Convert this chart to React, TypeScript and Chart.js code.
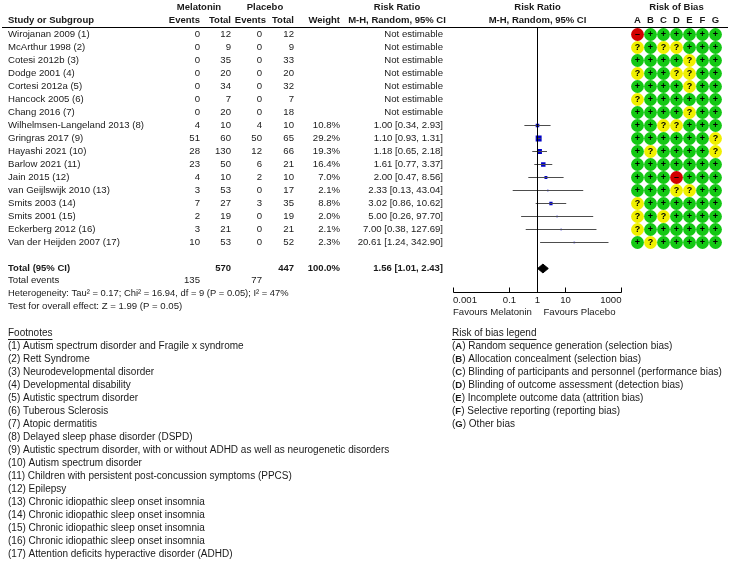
import React, { useEffect, useRef } from "react";
import { Chart, registerables } from "chart.js";

Chart.register(...registerables);

// ---------- data ----------
const studies = [
  "Wirojanan 2009 (1)",
  "McArthur 1998 (2)",
  "Cotesi 2012b (3)",
  "Dodge 2001 (4)",
  "Cortesi 2012a (5)",
  "Hancock 2005 (6)",
  "Chang 2016 (7)",
  "Wilhelmsen-Langeland 2013 (8)",
  "Gringras 2017 (9)",
  "Hayashi 2021 (10)",
  "Barlow 2021 (11)",
  "Jain 2015 (12)",
  "van Geijlswijk 2010 (13)",
  "Smits 2003 (14)",
  "Smits 2001 (15)",
  "Eckerberg 2012 (16)",
  "Van der Heijden 2007 (17)",
];
const melEvents = [0, 0, 0, 0, 0, 0, 0, 4, 51, 28, 23, 4, 3, 7, 2, 3, 10];
const melTotal = [12, 9, 35, 20, 34, 7, 20, 10, 60, 130, 50, 10, 53, 27, 19, 21, 53];
const plaEvents = [0, 0, 0, 0, 0, 0, 0, 4, 50, 12, 6, 2, 0, 3, 0, 0, 0];
const plaTotal = [12, 9, 33, 20, 32, 7, 18, 10, 65, 66, 21, 10, 17, 35, 19, 21, 52];
const weights: (number | null)[] = [null, null, null, null, null, null, null, 10.8, 29.2, 19.3, 16.4, 7.0, 2.1, 8.8, 2.0, 2.1, 2.3];
const riskRatio: (number | null)[] = [null, null, null, null, null, null, null, 1.0, 1.1, 1.18, 1.61, 2.0, 2.33, 3.02, 5.0, 7.0, 20.61];
const ciLow: (number | null)[] = [null, null, null, null, null, null, null, 0.34, 0.93, 0.65, 0.77, 0.47, 0.13, 0.86, 0.26, 0.38, 1.24];
const ciHigh: (number | null)[] = [null, null, null, null, null, null, null, 2.93, 1.31, 2.18, 3.37, 8.56, 43.04, 10.62, 97.7, 127.69, 342.9];

const totalMel = 570;
const totalPla = 447;
const totalWeight = "100.0%";
const totalRR = 1.56;
const totalLow = 1.01;
const totalHigh = 2.43;
const totalEventsMel = 135;
const totalEventsPla = 77;
const heterogeneityText = "Heterogeneity: Tau\u00b2 = 0.17; Chi\u00b2 = 16.94, df = 9 (P = 0.05); I\u00b2 = 47%";
const overallText = "Test for overall effect: Z = 1.99 (P = 0.05)";

const axisTicks = [0.001, 0.1, 1, 10, 1000];
const axisTickLabels = ["0.001", "0.1", "1", "10", "1000"];
const favoursLeft = "Favours Melatonin";
const favoursRight = "Favours Placebo";

const biasLetters = ["A", "B", "C", "D", "E", "F", "G"];
const biasRows = [
  "-++++++",
  "?+??+++",
  "++++?++",
  "?++??++",
  "++++?++",
  "?++++++",
  "++++?++",
  "++??+++",
  "++++++?",
  "+?++++?",
  "+++++++",
  "+++-+++",
  "+++??++",
  "?++++++",
  "?+?++++",
  "?++++++",
  "+?+++++",
];

const footnotes = [
  "(1) Autism spectrum disorder and Fragile x syndrome",
  "(2) Rett Syndrome",
  "(3) Neurodevelopmental disorder",
  "(4) Developmental disability",
  "(5) Autistic spectrum disorder",
  "(6) Tuberous Sclerosis",
  "(7) Atopic dermatitis",
  "(8) Delayed sleep phase disorder (DSPD)",
  "(9) Autistic spectrum disorder, with or without ADHD as well as neurogenetic disorders",
  "(10) Autism spectrum disorder",
  "(11) Children with persistent post-concussion symptoms (PPCS)",
  "(12) Epilepsy",
  "(13) Chronic idiopathic sleep onset insomnia",
  "(14) Chronic idiopathic sleep onset insomnia",
  "(15) Chronic idiopathic sleep onset insomnia",
  "(16) Chronic idiopathic sleep onset insomnia",
  "(17) Attention deficits hyperactive disorder (ADHD)",
];
const biasLegend = [
  "Random sequence generation (selection bias)",
  "Allocation concealment (selection bias)",
  "Blinding of participants and personnel (performance bias)",
  "Blinding of outcome assessment (detection bias)",
  "Incomplete outcome data (attrition bias)",
  "Selective reporting (reporting bias)",
  "Other bias",
];

// ---------- styles / layout ----------
const W = 740;
const H = 561;
const FONT = '"Liberation Sans", Arial, Helvetica, sans-serif';
const FS = 9.6;
const FSN = 10;
const FSB = 9.5;
const TEXT = "#1a1a1a";
const BLUE = "#0000c8";
const GREEN = "#14c814";
const YELLOW = "#f0f000";
const RED = "#d20000";
const biasColor: Record<string, string> = { "+": GREEN, "?": YELLOW, "-": RED };

const col = {
  name: 8,
  melEv: 200,
  melTot: 231,
  plaEv: 262,
  plaEvHead: 266,
  plaTot: 294,
  weight: 340,
  rr: 443,
  rrCenter: 397,
  melCenter: 199,
  plaCenter: 265,
  legendX: 452,
};

// plot geometry: log axis 0.001..1000 spans 453.5..621.5 px; chart area continues to 728 for bias columns
const plotLeft = 453.5;
const decadePx = 28;
const areaRight = 728.5;
const biasFirstPx = 637.5;
const biasStepPx = 13;
const rowPx = 13;

const fmt2 = (v: number) => v.toFixed(2);

export default function App() {
  const ref = useRef<HTMLCanvasElement>(null);

  useEffect(() => {
    const canvas = ref.current;
    if (!canvas) return;

    const estIdx = studies.map((_, i) => i).filter((i) => riskRatio[i] != null);

    const ciDatasets = estIdx.map((i) => ({
      data: [
        { x: ciLow[i] as number, y: i },
        { x: ciHigh[i] as number, y: i },
      ],
      showLine: true,
      borderColor: "#4d4d4d",
      borderWidth: 1,
      pointRadius: 0,
      xAxisID: "x",
      yAxisID: "y",
    }));

    const refLine = {
      data: [
        { x: 1, y: -1 },
        { x: 1, y: 21 },
      ],
      showLine: true,
      borderColor: "#000",
      borderWidth: 1,
      pointRadius: 0,
      xAxisID: "x",
      yAxisID: "y",
    };

    const squares = {
      data: estIdx.map((i) => ({ x: riskRatio[i] as number, y: i, w: weights[i] as number })),
      showLine: false,
      pointStyle: "rect",
      pointRadius: (c: any) => Math.max(1.6, 1.1 * Math.sqrt(c.raw ? c.raw.w : 1)) / Math.SQRT2,
      backgroundColor: BLUE,
      borderWidth: 0,
      xAxisID: "x",
      yAxisID: "y",
    };

    const totalRow = 18;
    const dh = 0.34;
    const diamond = {
      data: [
        { x: totalLow, y: totalRow },
        { x: totalRR, y: totalRow - dh },
        { x: totalHigh, y: totalRow },
        { x: totalRR, y: totalRow + dh },
        { x: totalLow, y: totalRow },
      ],
      showLine: true,
      fill: "shape",
      backgroundColor: "#000",
      borderColor: "#000",
      borderWidth: 1,
      pointRadius: 0,
      tension: 0,
      xAxisID: "x",
      yAxisID: "y",
    };

    const biasData = biasRows.flatMap((row, i) =>
      row.split("").map((s, j) => ({ x: j, y: i, v: s }))
    );
    const biasDots = {
      data: biasData,
      showLine: false,
      pointStyle: "circle",
      pointRadius: 6.4,
      backgroundColor: (c: any) => (c.raw ? biasColor[c.raw.v] : GREEN),
      borderWidth: 0,
      xAxisID: "xb",
      yAxisID: "y",
    };

    const areaW = areaRight - plotLeft;
    const xMaxLog = Math.pow(10, -3 + areaW / decadePx);
    const xbMin = -(biasFirstPx - plotLeft) / biasStepPx;
    const xbMax = xbMin + areaW / biasStepPx;
    const top = 27;
    const bottom = 292;
    const yMin = -(34.5 - top) / rowPx;
    const yMax = yMin + (bottom - top) / rowPx;

    const textPlugin = {
      id: "forestText",
      afterDraw(chart: any) {
        const c: CanvasRenderingContext2D = chart.ctx;
        const ys = chart.scales.y;
        const xs = chart.scales.x;
        const xb = chart.scales.xb;
        const ca = chart.chartArea;
        const ry = (v: number) => ys.getPixelForValue(v);
        const t = (s: string, x: number, y: number, align: CanvasTextAlign = "left", bold = false, size = FS) => {
          c.font = bold ? `bold ${FSB}px ${FONT}` : `${size}px ${FONT}`;
          c.textAlign = align;
          c.textBaseline = "middle";
          c.fillStyle = TEXT;
          c.fillText(s, x, y);
        };
        c.save();

        // headers
        const h1 = 7;
        const h2 = 20;
        const x1px = xs.getPixelForValue(1);
        t("Melatonin", col.melCenter, h1, "center", true);
        t("Placebo", col.plaCenter, h1, "center", true);
        t("Risk Ratio", col.rrCenter, h1, "center", true);
        t("Risk Ratio", x1px, h1, "center", true);
        t("Risk of Bias", (xb.getPixelForValue(0) + xb.getPixelForValue(6)) / 2, h1, "center", true);
        t("Study or Subgroup", col.name, h2, "left", true);
        t("Events", col.melEv, h2, "right", true);
        t("Total", col.melTot, h2, "right", true);
        t("Events", col.plaEvHead, h2, "right", true);
        t("Total", col.plaTot, h2, "right", true);
        t("Weight", col.weight, h2, "right", true);
        t("M-H, Random, 95% CI", col.rrCenter, h2, "center", true);
        t("M-H, Random, 95% CI", x1px, h2, "center", true);
        biasLetters.forEach((L, j) => t(L, xb.getPixelForValue(j), h2, "center", true));

        // header rule
        c.strokeStyle = "#000";
        c.lineWidth = 1;
        c.beginPath();
        c.moveTo(2, ca.top + 0.5);
        c.lineTo(728, ca.top + 0.5);
        c.stroke();

        // study rows
        studies.forEach((s, i) => {
          const y = ry(i);
          t(s, col.name, y);
          t(String(melEvents[i]), col.melEv, y, "right");
          t(String(melTotal[i]), col.melTot, y, "right");
          t(String(plaEvents[i]), col.plaEv, y, "right");
          t(String(plaTotal[i]), col.plaTot, y, "right");
          const w = weights[i];
          if (w != null) t(w.toFixed(1) + "%", col.weight, y, "right");
          const r = riskRatio[i];
          t(
            r != null ? `${fmt2(r)} [${fmt2(ciLow[i] as number)}, ${fmt2(ciHigh[i] as number)}]` : "Not estimable",
            col.rr,
            y,
            "right"
          );
        });

        // total rows
        const yt = ry(totalRow);
        t("Total (95% CI)", col.name, yt, "left", true);
        t(String(totalMel), col.melTot, yt, "right", true);
        t(String(totalPla), col.plaTot, yt, "right", true);
        t(totalWeight, col.weight, yt, "right", true);
        t(`${fmt2(totalRR)} [${fmt2(totalLow)}, ${fmt2(totalHigh)}]`, col.rr, yt, "right", true);
        const ye = ry(18.9);
        t("Total events", col.name, ye);
        t(String(totalEventsMel), col.melEv, ye, "right");
        t(String(totalEventsPla), col.plaEv, ye, "right");
        t(heterogeneityText, col.name, ry(19.9), "left", false, 9.4);
        t(overallText, col.name, ry(20.9));

        // bias symbols
        biasData.forEach((d) => {
          const px = xb.getPixelForValue(d.x);
          const py = ry(d.y);
          c.font = `bold 9px ${FONT}`;
          c.textAlign = "center";
          c.textBaseline = "middle";
          c.fillStyle = "#000";
          c.fillText(d.v === "-" ? "\u2013" : d.v, px, py + 0.5);
        });

        // axis
        const ay = ca.bottom + 0.5;
        const x0 = xs.getPixelForValue(axisTicks[0]);
        const xEnd = xs.getPixelForValue(axisTicks[axisTicks.length - 1]);
        c.strokeStyle = "#000";
        c.beginPath();
        c.moveTo(x0, ay);
        c.lineTo(xEnd, ay);
        axisTicks.forEach((v) => {
          const px = xs.getPixelForValue(v);
          c.moveTo(px, ay);
          c.lineTo(px, ay - 5);
        });
        c.stroke();
        axisTicks.forEach((v, k) => {
          const px = xs.getPixelForValue(v);
          const align: CanvasTextAlign = k === 0 ? "left" : k === axisTicks.length - 1 ? "right" : "center";
          t(axisTickLabels[k], px - (k === 0 ? 0.5 : 0), ca.bottom + 8, align);
        });
        t(favoursLeft, x0 - 0.5, ca.bottom + 20, "left");
        t(favoursRight, x1px + 6, ca.bottom + 20, "left");

        // footnotes
        const underline = (s: string, x: number, y: number) => {
          t(s, x, y, "left", false, FSN);
          c.font = `${FSN}px ${FONT}`;
          const w = c.measureText(s).width;
          c.strokeStyle = TEXT;
          c.beginPath();
          c.moveTo(x, Math.round(y + 5) + 0.5);
          c.lineTo(x + w, Math.round(y + 5) + 0.5);
          c.stroke();
        };
        underline("Footnotes", col.name, ry(23));
        footnotes.forEach((f, k) => t(f, col.name, ry(24 + k), "left", false, FSN));

        underline("Risk of bias legend", col.legendX, ry(23));
        biasLegend.forEach((s, k) => {
          const y = ry(24 + k);
          let x = col.legendX;
          t("(", x, y, "left", false, FSN);
          c.font = `${FSN}px ${FONT}`;
          x += c.measureText("(").width;
          t(biasLetters[k], x, y, "left", true);
          c.font = `bold ${FSB}px ${FONT}`;
          x += c.measureText(biasLetters[k]).width;
          t(") " + s, x, y, "left", false, FSN);
        });

        c.restore();
      },
    };

    const chart = new Chart(canvas, {
      type: "scatter",
      data: { datasets: [refLine, ...ciDatasets, squares, diamond, biasDots] as any },
      options: {
        responsive: false,
        devicePixelRatio: 1,
        animation: false,
        events: [],
        layout: { padding: { left: plotLeft, right: W - areaRight, top, bottom: H - bottom } },
        plugins: { legend: { display: false }, tooltip: { enabled: false } },
        scales: {
          x: { type: "logarithmic", min: 0.001, max: xMaxLog, display: false },
          xb: { type: "linear", min: xbMin, max: xbMax, display: false },
          y: { type: "linear", reverse: true, min: yMin, max: yMax, display: false },
        },
      } as any,
      plugins: [textPlugin],
    });
    return () => chart.destroy();
  }, []);

  return (
    <div style={{ position: "absolute", left: 0, top: 0, width: W, height: H, background: "#fff" }}>
      <canvas ref={ref} width={W} height={H} style={{ display: "block", width: W, height: H }} />
    </div>
  );
}
